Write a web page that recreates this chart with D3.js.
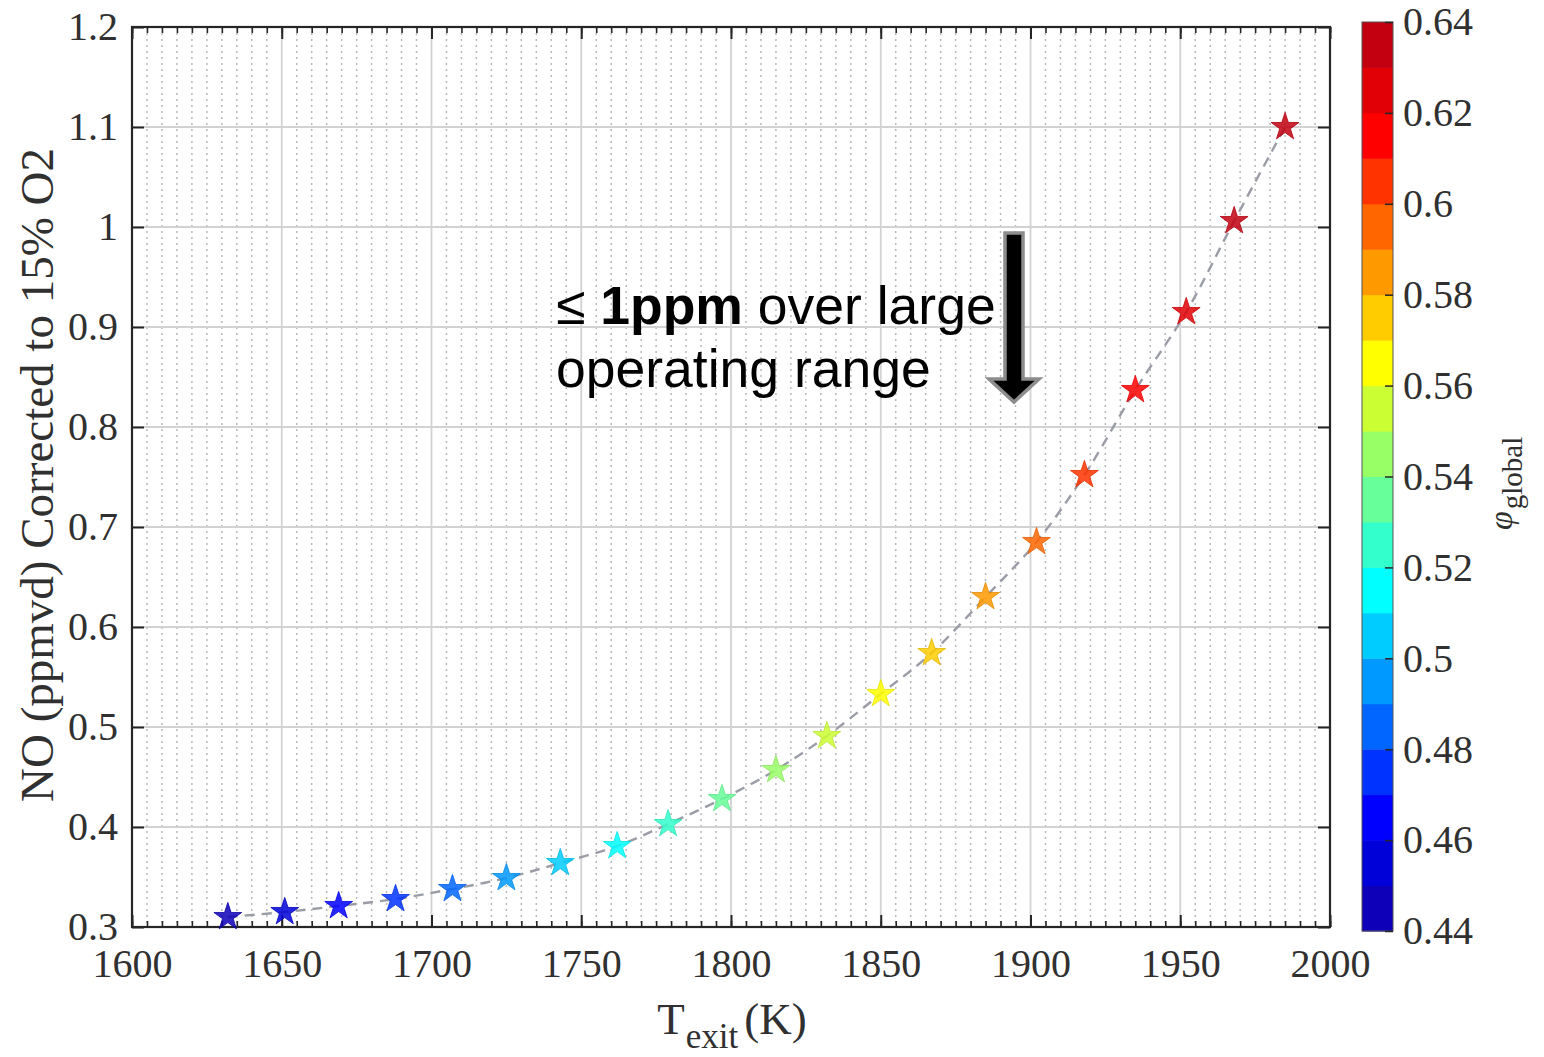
<!DOCTYPE html>
<html>
<head>
<meta charset="utf-8">
<script src="https://cdn.jsdelivr.net/npm/d3@7"></script>
<style>
  html, body { margin: 0; padding: 0; background: #fff; }
  svg { display: block; }
</style>
</head>
<body>
<svg id="chart" width="1544" height="1057"></svg>
<script>
// ---------------- data ----------------
const texit = [1632, 1651, 1669, 1688, 1707, 1725, 1743, 1762, 1779, 1797, 1815, 1832, 1850, 1867, 1885, 1902, 1918, 1935, 1952, 1968, 1985];
const noPpm = [0.310, 0.315, 0.321, 0.328, 0.338, 0.349, 0.364, 0.381, 0.403, 0.428, 0.457, 0.491, 0.533, 0.574, 0.630, 0.685, 0.752, 0.837, 0.915, 1.006, 1.100];
const phiGlobal = [0.44, 0.45, 0.46, 0.47, 0.48, 0.49, 0.50, 0.51, 0.52, 0.53, 0.54, 0.55, 0.56, 0.57, 0.58, 0.59, 0.60, 0.61, 0.62, 0.63, 0.64];
const xTicks = [1600, 1650, 1700, 1750, 1800, 1850, 1900, 1950, 2000];
const yTicks = [0.3, 0.4, 0.5, 0.6, 0.7, 0.8, 0.9, 1.0, 1.1, 1.2];
const cTicks = [0.44, 0.46, 0.48, 0.50, 0.52, 0.54, 0.56, 0.58, 0.60, 0.62, 0.64];
// jet-like colormap with 20 levels (as seen in the colorbar)
const jet20 = [
  [.05,0,.72],[0,0,.85],[0,0,1],[0,.2,1],[0,.4,1],[0,.6,1],[0,.8,1],[0,1,1],
  [.2,1,.8],[.4,1,.6],[.6,1,.4],[.8,1,.2],[1,1,0],[1,.8,0],[1,.6,0],[1,.4,0],
  [1,.2,0],[1,0,0],[.88,0,.02],[.76,0,.06]
].map(c => d3.rgb(c[0]*255, c[1]*255, c[2]*255).formatHex());

const data = texit.map((t, i) => ({ t, no: noPpm[i], phi: phiGlobal[i] }));

// ---------------- layout ----------------
const svg = d3.select("#chart");
const L = 132, R = 1330, T = 27, B = 927;
const x = d3.scaleLinear().domain([1600, 2000]).range([L, R]);
const y = d3.scaleLinear().domain([0.3, 1.2]).range([B, T]);
const cDomain = [0.44, 0.64];
const cy = d3.scaleLinear().domain(cDomain).range([931, 22]);
const colorOf = phi => {
  const idx = Math.min(jet20.length - 1, Math.max(0, Math.floor((phi - cDomain[0]) / (cDomain[1] - cDomain[0]) * jet20.length + 1e-6)));
  return jet20[idx];
};

const axisColor = "#262626";
const serif = "'Liberation Serif', 'Times New Roman', serif";

// ---------------- grids ----------------
const minorX = d3.range(1600, 2001, 5).filter(v => v % 50 !== 0);
const g = svg.append("g");
g.selectAll(".minx").data(minorX).join("line")
  .attr("x1", d => x(d)).attr("x2", d => x(d)).attr("y1", T).attr("y2", B)
  .attr("stroke", "#b8b8b8").attr("stroke-width", 1.5).attr("stroke-dasharray", "2,4");
g.selectAll(".majx").data(xTicks.slice(1, -1)).join("line")
  .attr("x1", d => x(d)).attr("x2", d => x(d)).attr("y1", T).attr("y2", B)
  .attr("stroke", "#d2d2d2").attr("stroke-width", 1.8);
g.selectAll(".majy").data(yTicks.slice(1, -1)).join("line")
  .attr("y1", d => y(d)).attr("y2", d => y(d)).attr("x1", L).attr("x2", R)
  .attr("stroke", "#d2d2d2").attr("stroke-width", 1.8);

// ---------------- axes (ticks inward) ----------------
const xMinorAll = d3.range(1600, 2001, 5);
// bottom
svg.append("g").attr("transform", `translate(0,${B})`)
  .call(d3.axisBottom(x).tickValues(xMinorAll).tickSize(-6).tickFormat(""))
  .call(s => s.select(".domain").remove())
  .call(s => s.selectAll("line").attr("stroke", axisColor).attr("stroke-width", 1.6));
svg.append("g").attr("transform", `translate(0,${B})`)
  .call(d3.axisBottom(x).tickValues(xTicks).tickSize(-12).tickPadding(22).tickFormat(d3.format("d")))
  .call(s => s.select(".domain").remove())
  .call(s => s.selectAll("line").attr("stroke", axisColor).attr("stroke-width", 2))
  .call(s => s.selectAll("text").attr("font-family", serif).attr("font-size", 40).attr("fill", "#303030").attr("dy", "0.71em"));
// top
svg.append("g").attr("transform", `translate(0,${T})`)
  .call(d3.axisTop(x).tickValues(xMinorAll).tickSize(-6).tickFormat(""))
  .call(s => s.select(".domain").remove())
  .call(s => s.selectAll("line").attr("stroke", axisColor).attr("stroke-width", 1.6));
svg.append("g").attr("transform", `translate(0,${T})`)
  .call(d3.axisTop(x).tickValues(xTicks).tickSize(-12).tickFormat(""))
  .call(s => s.select(".domain").remove())
  .call(s => s.selectAll("line").attr("stroke", axisColor).attr("stroke-width", 2));
// left
svg.append("g").attr("transform", `translate(${L},0)`)
  .call(d3.axisLeft(y).tickValues(yTicks).tickSize(-12).tickPadding(14).tickFormat(d => d3.format("")(+d.toFixed(1))))
  .call(s => s.select(".domain").remove())
  .call(s => s.selectAll("line").attr("stroke", axisColor).attr("stroke-width", 2))
  .call(s => s.selectAll("text").attr("font-family", serif).attr("font-size", 40).attr("fill", "#303030"));
// right
svg.append("g").attr("transform", `translate(${R},0)`)
  .call(d3.axisRight(y).tickValues(yTicks).tickSize(-12).tickFormat(""))
  .call(s => s.select(".domain").remove())
  .call(s => s.selectAll("line").attr("stroke", axisColor).attr("stroke-width", 2));
// box
svg.append("rect").attr("x", L).attr("y", T).attr("width", R - L).attr("height", B - T)
  .attr("fill", "none").attr("stroke", axisColor).attr("stroke-width", 2.2);

// ---------------- fit curve & markers ----------------
const line = d3.line().x(d => x(d.t)).y(d => y(d.no)).curve(d3.curveCatmullRom);
svg.append("path").datum(data).attr("d", line)
  .attr("fill", "none").attr("stroke", "#9a9ca6").attr("stroke-width", 2.4).attr("stroke-dasharray", "10,7");

const star = d3.symbol().type(d3.symbolStar).size(240);
svg.append("g").selectAll("path").data(data).join("path")
  .attr("transform", d => `translate(${x(d.t)},${y(d.no)})`)
  .attr("d", star)
  .attr("fill", d => colorOf(d.phi))
  .attr("fill-opacity", 0.85)
  .attr("stroke", d => d3.color(colorOf(d.phi)).darker(0.3))
  .attr("stroke-opacity", 0.8)
  .attr("stroke-width", 1);

// ---------------- axis labels ----------------
svg.append("text")
  .attr("transform", `translate(53,475) rotate(-90)`)
  .attr("text-anchor", "middle")
  .attr("font-family", serif).attr("font-size", 47).attr("fill", "#303030")
  .text("NO (ppmvd) Corrected to 15% O2");

const xl = svg.append("text").attr("x", 732).attr("y", 1034).attr("text-anchor", "middle")
  .attr("font-family", serif).attr("font-size", 45).attr("fill", "#303030");
xl.append("tspan").text("T");
xl.append("tspan").attr("font-size", 35).attr("dy", 14).attr("dx", 1).text("exit");
xl.append("tspan").attr("dy", -14).attr("dx", 6).text("(K)");

// ---------------- colorbar ----------------
const cbX = 1362, cbW = 31;
const blocks = jet20.map((c, i) => ({ c, v0: cDomain[0] + (cDomain[1] - cDomain[0]) * i / jet20.length, v1: cDomain[0] + (cDomain[1] - cDomain[0]) * (i + 1) / jet20.length }));
svg.append("g").selectAll("rect").data(blocks).join("rect")
  .attr("x", cbX).attr("width", cbW)
  .attr("y", d => cy(d.v1)).attr("height", d => cy(d.v0) - cy(d.v1) + 0.5)
  .attr("fill", d => d.c);
svg.append("rect").attr("x", cbX).attr("y", cy(0.64)).attr("width", cbW).attr("height", cy(0.44) - cy(0.64))
  .attr("fill", "none").attr("stroke", "#555").attr("stroke-width", 1);
svg.append("g").attr("transform", `translate(${cbX + cbW},0)`)
  .call(d3.axisRight(cy).tickValues(cTicks).tickSize(-8).tickPadding(10).tickFormat(d => d3.format("")(+d.toFixed(2))))
  .call(s => s.select(".domain").remove())
  .call(s => s.selectAll("line").attr("stroke", axisColor).attr("stroke-width", 1.5))
  .call(s => s.selectAll("text").attr("font-family", serif).attr("font-size", 40).attr("fill", "#303030"));

const cl = svg.append("text").attr("transform", "translate(1512,530) rotate(-90)")
  .attr("font-family", serif).attr("fill", "#303030");
cl.append("tspan").attr("font-size", 34).attr("font-style", "italic").text("φ");
cl.append("tspan").attr("font-size", 29).attr("dy", 10).attr("dx", 2).text("global");

// ---------------- annotation ----------------
const sans = "'Liberation Sans', Arial, sans-serif";
const a1 = svg.append("text").attr("x", 556).attr("y", 324).attr("font-family", sans).attr("font-size", 53.5).attr("fill", "#000");
a1.append("tspan").text("≤ ");
a1.append("tspan").attr("font-weight", "bold").text("1ppm");
a1.append("tspan").text(" over large");
svg.append("text").attr("x", 556).attr("y", 387).attr("font-family", sans).attr("font-size", 53.5).attr("fill", "#000")
  .text("operating range");

// arrow
const ax0 = 1014, ayTop = 233, ayHead = 379, ayTip = 402, sw = 9, hw = 25;
const arrowPts = [[ax0 - sw, ayTop], [ax0 + sw, ayTop], [ax0 + sw, ayHead], [ax0 + hw, ayHead], [ax0, ayTip], [ax0 - hw, ayHead], [ax0 - sw, ayHead]];
svg.append("path").attr("d", d3.line()(arrowPts) + "Z")
  .attr("fill", "#000").attr("stroke", "#8c8c8c").attr("stroke-width", 3.5).attr("stroke-linejoin", "miter");
</script>
</body>
</html>
